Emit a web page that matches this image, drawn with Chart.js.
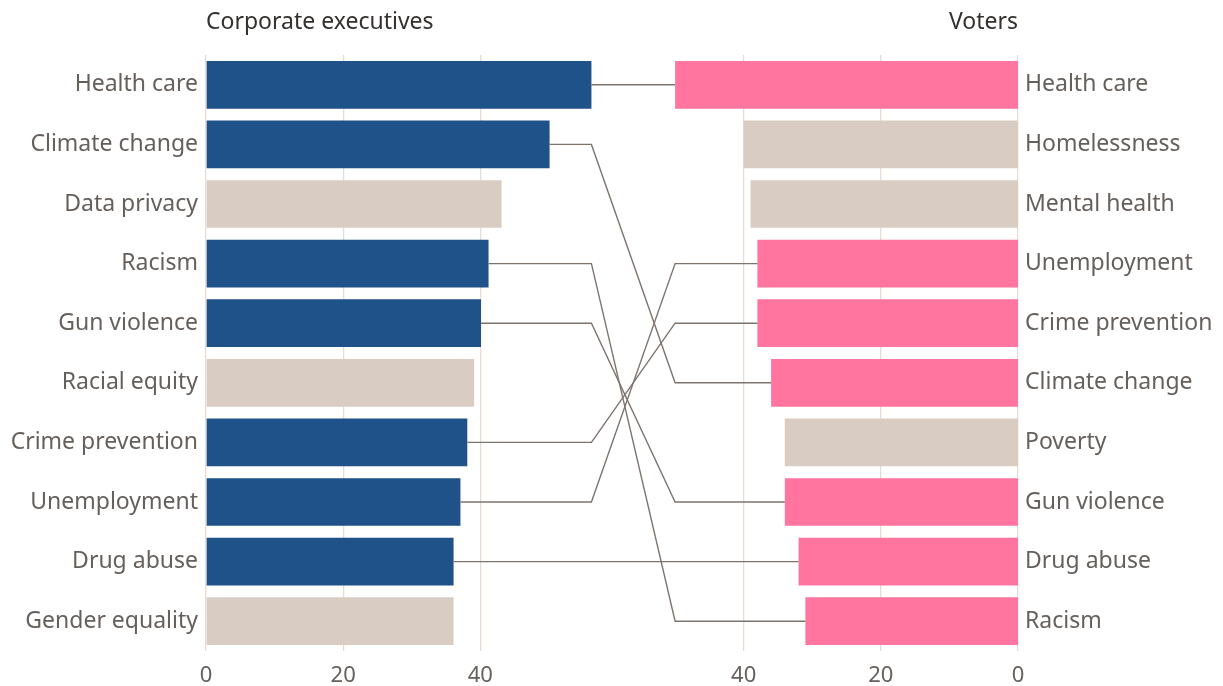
<!DOCTYPE html>
<html>
<head>
<meta charset="utf-8">
<title>Issues: executives vs voters</title>
<script src="https://cdn.jsdelivr.net/npm/chart.js@4"></script>
<style>
  html, body { margin: 0; padding: 0; background: #fff; }
  #wrap { width: 1223px; height: 686px; }
</style>
</head>
<body>
<div id="wrap"><canvas id="issuesChart" width="1223" height="686"></canvas></div>
<script>
// Share of respondents naming each issue (%)
const execLabels = ['Health care', 'Climate change', 'Data privacy', 'Racism', 'Gun violence',
    'Racial equity', 'Crime prevention', 'Unemployment', 'Drug abuse', 'Gender equality'];
const execValues = [56.2, 50.1, 43.1, 41.2, 40.1, 39.1, 38.1, 37.1, 36.1, 36.1];

const voterLabels = ['Health care', 'Homelessness', 'Mental health', 'Unemployment', 'Crime prevention',
    'Climate change', 'Poverty', 'Gun violence', 'Drug abuse', 'Racism'];
const voterValues = [50, 40, 39, 38, 38, 36, 34, 34, 32, 31];

const tickValues = [0, 20, 40];

// right panel runs backwards from this point on the shared axis
const SPAN = 118.4;

const NAVY = '#1f5289';
const PINK = '#ff75a0';
const BEIGE = '#d9cdc3';
const GREY_TEXT = '#66605c';
const FONT = '"Noto Sans", sans-serif';

const execColors = execLabels.map(l => voterLabels.includes(l) ? NAVY : BEIGE);
const voterColors = voterLabels.map(l => execLabels.includes(l) ? PINK : BEIGE);

// connector lines between the same issue in both rankings + panel titles
const linksPlugin = {
    id: 'links',
    afterDatasetsDraw(chart) {
        const ctx = chart.ctx;
        const x = chart.scales.x;
        const yL = chart.scales.yL;
        const yR = chart.scales.yR;
        const leftEdge = x.getPixelForValue(Math.max(...execValues));
        const rightEdge = x.getPixelForValue(SPAN - Math.max(...voterValues));

        ctx.save();
        ctx.strokeStyle = '#7d746e';
        ctx.lineWidth = 1.4;
        execLabels.forEach((label, i) => {
            const j = voterLabels.indexOf(label);
            if (j < 0) return;
            const y1 = yL.getPixelForValue(i);
            const y2 = yR.getPixelForValue(j);
            ctx.beginPath();
            ctx.moveTo(x.getPixelForValue(execValues[i]), y1);
            ctx.lineTo(leftEdge, y1);
            ctx.lineTo(rightEdge, y2);
            ctx.lineTo(x.getPixelForValue(SPAN - voterValues[j]), y2);
            ctx.stroke();
        });

        ctx.fillStyle = '#33302e';
        ctx.font = '23px ' + FONT;
        ctx.textBaseline = 'middle';
        ctx.textAlign = 'left';
        ctx.fillText('Corporate executives', chart.chartArea.left, 22);
        ctx.textAlign = 'right';
        ctx.fillText('Voters', chart.chartArea.right, 22);
        ctx.restore();
    }
};

new Chart(document.getElementById('issuesChart'), {
    type: 'bar',
    data: {
        labels: execLabels,
        datasets: [{
            label: 'Corporate executives',
            data: execValues,
            backgroundColor: execColors,
            yAxisID: 'yL',
            xAxisID: 'x',
            grouped: false,
            barPercentage: 0.8,
            categoryPercentage: 1
        }, {
            label: 'Voters',
            data: voterValues.map(v => [SPAN - v, SPAN]),
            backgroundColor: voterColors,
            yAxisID: 'yR',
            xAxisID: 'x',
            grouped: false,
            barPercentage: 0.8,
            categoryPercentage: 1
        }]
    },
    options: {
        indexAxis: 'y',
        responsive: false,
        animation: false,
        layout: { padding: { top: 55, left: 0, right: 0, bottom: 0 } },
        plugins: {
            legend: { display: false },
            tooltip: { enabled: false }
        },
        scales: {
            x: {
                type: 'linear',
                min: 0,
                max: SPAN,
                afterBuildTicks(scale) {
                    const vals = tickValues.concat(tickValues.map(t => SPAN - t));
                    scale.ticks = vals.map(v => ({ value: v }));
                },
                afterFit(scale) { scale.height = 35; },
                grid: { color: '#e6dcd3', lineWidth: 1.3, drawTicks: false },
                border: { display: false },
                ticks: {
                    padding: 12,
                    color: GREY_TEXT,
                    font: { family: FONT, size: 22 },
                    maxRotation: 0,
                    callback: v => v > 60 ? Math.round(SPAN - v) : v
                }
            },
            yL: {
                type: 'category',
                position: 'left',
                labels: execLabels,
                afterFit(scale) { scale.width = 206; },
                grid: { display: false, drawTicks: false },
                border: { display: false },
                ticks: {
                    padding: 8,
                    color: GREY_TEXT,
                    font: { family: FONT, size: 23 }
                }
            },
            yR: {
                type: 'category',
                position: 'right',
                labels: voterLabels,
                afterFit(scale) { scale.width = 205; },
                grid: { display: false, drawTicks: false },
                border: { display: false },
                ticks: {
                    padding: 7,
                    color: GREY_TEXT,
                    font: { family: FONT, size: 23 }
                }
            }
        }
    },
    plugins: [linksPlugin]
});
</script>
</body>
</html>
